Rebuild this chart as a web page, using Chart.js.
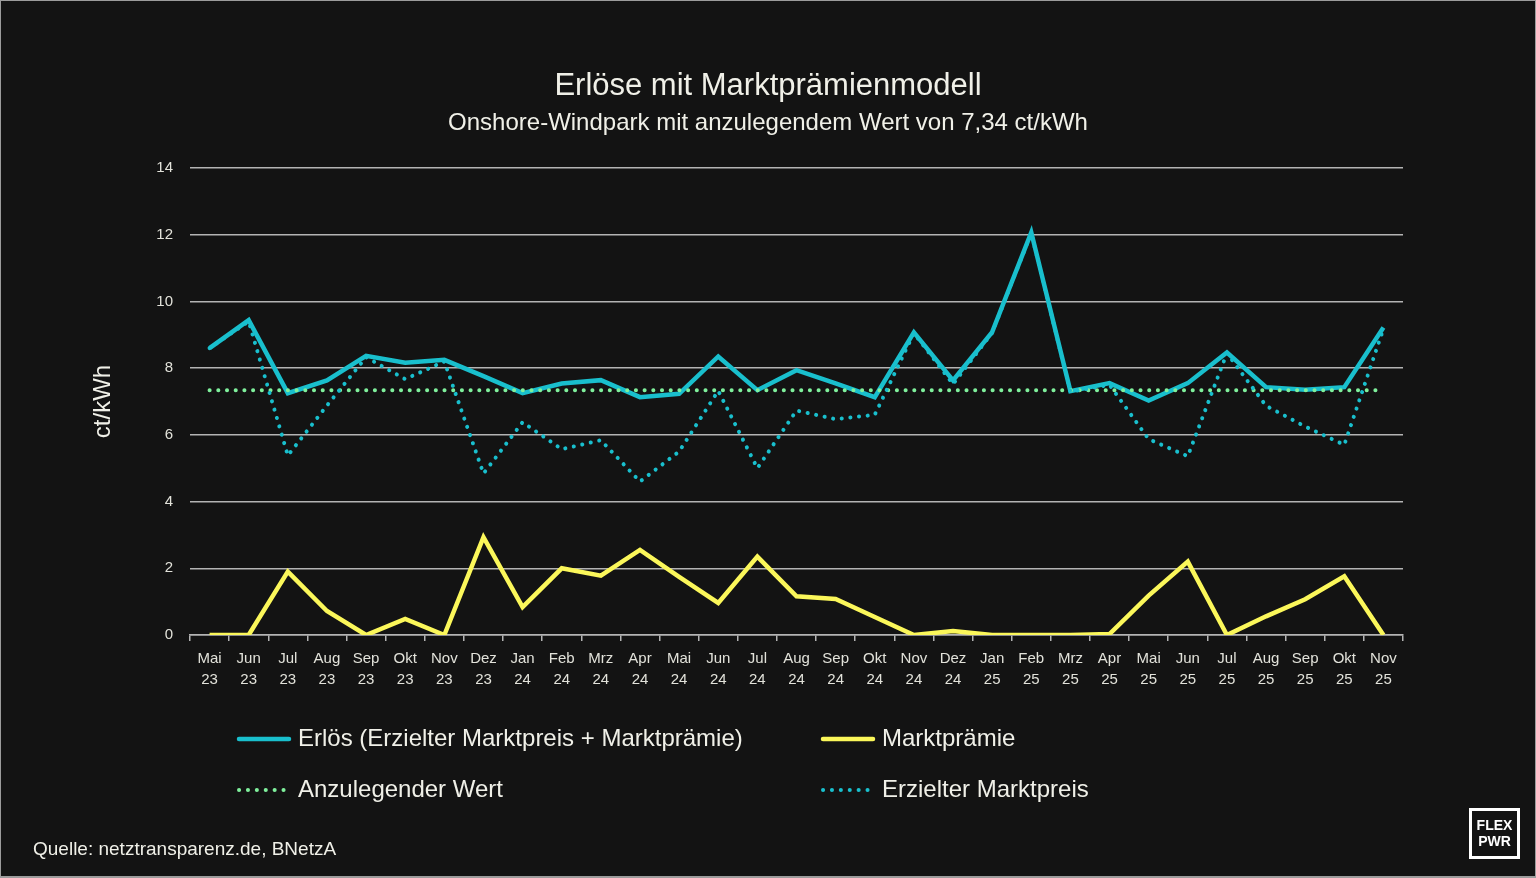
<!DOCTYPE html>
<html lang="de">
<head>
<meta charset="utf-8">
<title>Erlöse mit Marktprämienmodell</title>
<script src="https://cdn.jsdelivr.net/npm/chart.js@4.4.1/dist/chart.umd.min.js"></script>
<style>
  html, body { margin: 0; padding: 0; background: #131313; }
  #wrap { position: relative; width: 1536px; height: 878px; background: #131313; overflow: hidden; }
  #wrap canvas { position: absolute; left: 0; top: 0; }
  #frame { position: absolute; left: 0; top: 0; width: 1536px; height: 878px; box-sizing: border-box;
           border: 1px solid #9c9c9c; border-bottom-width: 2px; pointer-events: none; }
</style>
</head>
<body>
<div id="wrap">
  <canvas id="c" width="1536" height="878"></canvas>
  <div id="frame"></div>
</div>
<script>
// ---- data ----
const months = ['Mai','Jun','Jul','Aug','Sep','Okt','Nov','Dez','Jan','Feb','Mrz','Apr','Mai','Jun','Jul','Aug','Sep','Okt','Nov','Dez','Jan','Feb','Mrz','Apr','Mai','Jun','Jul','Aug','Sep','Okt','Nov'];
const years  = ['23','23','23','23','23','23','23','23','24','24','24','24','24','24','24','24','24','24','24','24','25','25','25','25','25','25','25','25','25','25','25'];

const erloes = [8.60, 9.44, 7.25, 7.63, 8.37, 8.16, 8.25, 7.76, 7.25, 7.54, 7.64, 7.13, 7.23, 8.35, 7.34, 7.94, 7.54, 7.13, 9.07, 7.63, 9.08, 12.07, 7.31, 7.55, 7.03, 7.55, 8.47, 7.43, 7.35, 7.43, 9.22];
const marktpraemie = [0, 0, 1.90, 0.72, 0, 0.48, 0, 2.93, 0.84, 2.00, 1.78, 2.55, 1.74, 0.96, 2.35, 1.16, 1.08, 0.54, 0, 0.12, 0, 0, 0, 0.03, 1.18, 2.20, 0, 0.56, 1.07, 1.76, 0];
const anzulegenderWert = [7.34, 7.34, 7.34, 7.34, 7.34, 7.34, 7.34, 7.34, 7.34, 7.34, 7.34, 7.34, 7.34, 7.34, 7.34, 7.34, 7.34, 7.34, 7.34, 7.34, 7.34, 7.34, 7.34, 7.34, 7.34, 7.34, 7.34, 7.34, 7.34, 7.34, 7.34];
const marktpreis = [8.60, 9.40, 5.38, 6.88, 8.33, 7.67, 8.20, 4.84, 6.38, 5.57, 5.84, 4.60, 5.50, 7.32, 5.00, 6.73, 6.47, 6.60, 9.05, 7.52, 9.06, 12.05, 7.29, 7.50, 5.87, 5.36, 8.45, 6.87, 6.25, 5.70, 9.18];

const yTicks = [0, 2, 4, 6, 8, 10, 12, 14];

const seriesLabels = ['Erlös (Erzielter Marktpreis + Marktprämie)', 'Marktprämie', 'Anzulegender Wert', 'Erzielter Marktpreis'];
const titleText = 'Erlöse mit Marktprämienmodell';
const subtitleText = 'Onshore-Windpark mit anzulegendem Wert von 7,34 ct/kWh';
const yAxisTitle = 'ct/kWh';
const sourceText = 'Quelle: netztransparenz.de, BNetzA';
const logoLines = ['FLEX', 'PWR'];

// ---- styles ----
const FONT = "'Liberation Sans', Arial, sans-serif";
const TXT = '#f0f0e8';
const CYAN = '#19bfcd';
const YELLOW = '#fbf75a';
const GREEN = '#7ff09c';
const GRID = '#b4b4b4';

const labels = months.map((m, i) => [m, years[i]]);

const legendItems = [
  { text: seriesLabels[0], color: CYAN, dotted: false, x: 238, y: 739 },
  { text: seriesLabels[1], color: YELLOW, dotted: false, x: 822, y: 739 },
  { text: seriesLabels[2], color: GREEN, dotted: true, x: 238, y: 790 },
  { text: seriesLabels[3], color: CYAN, dotted: true, x: 822, y: 790 }
];

const extrasPlugin = {
  id: 'extras',
  afterDraw(chart) {
    const ctx = chart.ctx;
    ctx.save();
    // legend
    legendItems.forEach(it => {
      ctx.beginPath();
      ctx.strokeStyle = it.color;
      if (it.dotted) {
        ctx.lineWidth = 4;
        ctx.lineCap = 'round';
        ctx.setLineDash([0.1, 8.8]);
        ctx.moveTo(it.x + 1, it.y);
        ctx.lineTo(it.x + 47, it.y);
      } else {
        ctx.lineWidth = 4.5;
        ctx.lineCap = 'round';
        ctx.setLineDash([]);
        ctx.moveTo(it.x + 1, it.y);
        ctx.lineTo(it.x + 51, it.y);
      }
      ctx.stroke();
      ctx.setLineDash([]);
      ctx.fillStyle = TXT;
      ctx.font = '24px ' + FONT;
      ctx.textBaseline = 'middle';
      ctx.textAlign = 'left';
      ctx.fillText(it.text, it.x + 60, it.y);
    });
    // source
    ctx.font = '19px ' + FONT;
    ctx.fillStyle = TXT;
    ctx.textBaseline = 'middle';
    ctx.fillText(sourceText, 33, 850);
    // logo
    ctx.strokeStyle = '#ffffff';
    ctx.lineWidth = 3;
    ctx.strokeRect(1470.5, 809.5, 48, 48);
    ctx.fillStyle = '#ffffff';
    ctx.font = 'bold 14px ' + FONT;
    ctx.textAlign = 'center';
    ctx.fillText(logoLines[0], 1494.5, 826);
    ctx.fillText(logoLines[1], 1494.5, 842);
    ctx.restore();
  }
};

const dotted = { borderDash: [0.1, 8.6], borderCapStyle: 'round' };

new Chart(document.getElementById('c'), {
  type: 'line',
  data: {
    labels: labels,
    datasets: [
      { label: seriesLabels[0], data: erloes, borderColor: CYAN, backgroundColor: CYAN, borderWidth: 4.5, order: 2 },
      { label: seriesLabels[1], data: marktpraemie, borderColor: YELLOW, backgroundColor: YELLOW, borderWidth: 4.5, order: 3 },
      Object.assign({ label: seriesLabels[2], data: anzulegenderWert, borderColor: GREEN, backgroundColor: GREEN, borderWidth: 4, order: 1 }, dotted),
      Object.assign({ label: seriesLabels[3], data: marktpreis, borderColor: CYAN, backgroundColor: CYAN, borderWidth: 4, order: 0 }, dotted)
    ]
  },
  options: {
    responsive: false,
    devicePixelRatio: 1,
    animation: false,
    layout: { padding: { left: 0, right: 0, top: 0, bottom: 183 } },
    elements: { point: { radius: 0, hoverRadius: 0 }, line: { tension: 0, borderJoinStyle: 'miter' } },
    plugins: {
      legend: { display: false },
      tooltip: { enabled: false },
      title: {
        display: true, text: titleText, color: TXT,
        font: { family: FONT, size: 31, weight: 'normal', lineHeight: 1.2 },
        padding: { top: 68, bottom: 0 }
      },
      subtitle: {
        display: true, text: subtitleText, color: TXT,
        font: { family: FONT, size: 24, weight: 'normal', lineHeight: 1.2 },
        padding: { top: 4, bottom: 30 }
      }
    },
    scales: {
      x: {
        type: 'category',
        offset: true,
        grid: { offset: true, drawOnChartArea: false, drawTicks: true, tickLength: 6, color: GRID, lineWidth: 1.5 },
        border: { display: true, color: GRID, width: 1.5 },
        ticks: { color: '#e2e2da', font: { family: FONT, size: 15, lineHeight: 1.4 }, padding: 7, maxRotation: 0, autoSkip: false },
        afterFit: s => { s.height = 60; }
      },
      y: {
        type: 'linear',
        position: 'left',
        min: 0, max: 14,
        afterBuildTicks: s => { s.ticks = yTicks.map(v => ({ value: v })); },
        grid: { color: GRID, lineWidth: 1.5, drawTicks: false },
        border: { display: false },
        ticks: { color: '#e2e2da', font: { family: FONT, size: 15 }, padding: 17 },
        title: { display: true, text: yAxisTitle, color: TXT, font: { family: FONT, size: 24, lineHeight: 1.2 }, padding: { top: 89, bottom: 0 } },
        afterFit: s => { s.width = 190; }
      },
      yR: {
        type: 'linear',
        position: 'right',
        display: true,
        grid: { display: false, drawTicks: false },
        border: { display: false },
        ticks: { display: false },
        afterFit: s => { s.width = 133; }
      }
    }
  },
  plugins: [extrasPlugin]
});
</script>
</body>
</html>
